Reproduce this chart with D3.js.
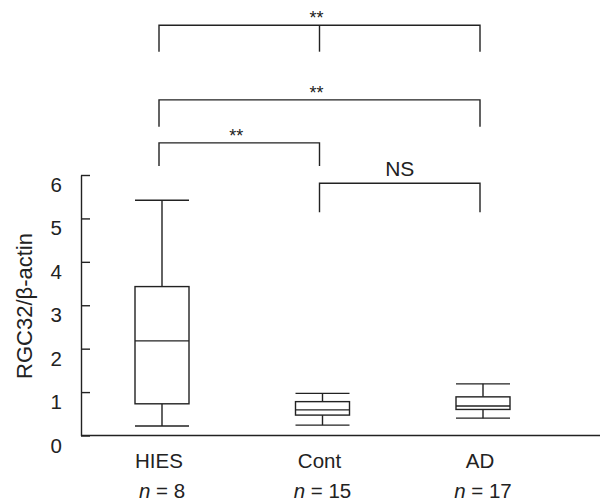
<!DOCTYPE html>
<html>
<head>
<meta charset="utf-8">
<script src="https://cdn.jsdelivr.net/npm/d3@7"></script>
<style>
  body { margin: 0; background: #fff; }
  text { font-family: "Liberation Sans", Arial, sans-serif; fill: #222; }
</style>
</head>
<body>
<div id="chart"></div>
<script>
var groups = ["HIES", "Cont", "AD"]
var counts = [8, 15, 17]
var whiskerLow = [0.22, 0.24, 0.40]
var q1 = [0.73, 0.47, 0.60]
var median = [2.18, 0.59, 0.68]
var q3 = [3.43, 0.78, 0.89]
var whiskerHigh = [5.42, 0.97, 1.19]
var yTicks = [0, 1, 2, 3, 4, 5, 6]

// significance brackets (levels in y units, above the axis)
var bracketFrom = ["HIES", "HIES", "HIES", "Cont"]
var bracketTo = ["AD", "AD", "Cont", "AD"]
var bracketMid = ["Cont", null, null, null]
var bracketTop = [9.45, 7.73, 6.74, 5.81]
var bracketLeg = [8.84, 7.11, 6.21, 5.14]
var bracketText = ["**", "**", "**", "NS"]

var width = 615, height = 502
var ink = "#222"
var fs = "20.5px"

var svg = d3.select("#chart").append("svg")
  .attr("width", width)
  .attr("height", height)

var x = d3.scalePoint().domain(groups).range([162, 483])
var y = d3.scaleLinear().domain([0, 6]).range([435.5, 175])
var boxW = 54

// y axis, ticks pointing inward, labels sitting a bit low
var yAxis = svg.append("g")
  .attr("transform", "translate(81,0)")
  .call(d3.axisLeft(y).tickValues(yTicks).tickFormat(d3.format("d"))
    .tickSizeInner(-9).tickSizeOuter(0).tickPadding(19))
yAxis.select(".domain").attr("stroke", ink).attr("stroke-width", 1.4)
yAxis.selectAll(".tick line").attr("stroke", ink).attr("stroke-width", 1.4)
yAxis.selectAll(".tick text")
  .attr("y", 10)
  .style("font-size", fs)
  .style("font-family", "'Liberation Sans', Arial, sans-serif")
  .attr("fill", ink)

// bottom axis line
svg.append("line")
  .attr("x1", 81).attr("x2", 600)
  .attr("y1", y(0)).attr("y2", y(0))
  .attr("stroke", ink).attr("stroke-width", 1.4)

svg.append("text")
  .attr("transform", "translate(32,306) rotate(-90)")
  .attr("text-anchor", "middle")
  .style("font-size", "22px")
  .text("RGC32/β-actin")

// boxes
var box = svg.selectAll(".box")
  .data(groups)
  .enter().append("g")
  .attr("class", "box")
  .attr("stroke", ink)
  .attr("stroke-width", 1.4)

box.append("line")
  .attr("x1", (d) => x(d)).attr("x2", (d) => x(d))
  .attr("y1", (d, i) => y(whiskerHigh[i])).attr("y2", (d, i) => y(q3[i]))
box.append("line")
  .attr("x1", (d) => x(d)).attr("x2", (d) => x(d))
  .attr("y1", (d, i) => y(q1[i])).attr("y2", (d, i) => y(whiskerLow[i]))
box.append("line")
  .attr("x1", (d) => x(d) - boxW / 2).attr("x2", (d) => x(d) + boxW / 2)
  .attr("y1", (d, i) => y(whiskerHigh[i])).attr("y2", (d, i) => y(whiskerHigh[i]))
box.append("line")
  .attr("x1", (d) => x(d) - boxW / 2).attr("x2", (d) => x(d) + boxW / 2)
  .attr("y1", (d, i) => y(whiskerLow[i])).attr("y2", (d, i) => y(whiskerLow[i]))
box.append("rect")
  .attr("x", (d) => x(d) - boxW / 2)
  .attr("width", boxW)
  .attr("y", (d, i) => y(q3[i]))
  .attr("height", (d, i) => y(q1[i]) - y(q3[i]))
  .attr("fill", "#fff")
box.append("line")
  .attr("x1", (d) => x(d) - boxW / 2).attr("x2", (d) => x(d) + boxW / 2)
  .attr("y1", (d, i) => y(median[i])).attr("y2", (d, i) => y(median[i]))

// category labels
svg.selectAll(".cat")
  .data(groups)
  .enter().append("text")
  .attr("class", "cat")
  .attr("x", (d) => x(d) - 3)
  .attr("y", 468)
  .attr("text-anchor", "middle")
  .style("font-size", fs)
  .text((d) => d)

var nLab = svg.selectAll(".nlab")
  .data(groups)
  .enter().append("text")
  .attr("class", "nlab")
  .attr("x", (d) => x(d))
  .attr("y", 498)
  .attr("text-anchor", "middle")
  .style("font-size", fs)
nLab.append("tspan").style("font-style", "italic").text("n")
nLab.append("tspan").text((d, i) => " = " + counts[i])

// brackets
var bx = (g) => x(g) - 3
bracketText.forEach((lab, i) => {
  var x1 = bx(bracketFrom[i]), x2 = bx(bracketTo[i])
  var top = y(bracketTop[i]), leg = y(bracketLeg[i])
  var pts = [[x1, leg], [x1, top], [x2, top], [x2, leg]]
  svg.append("path")
    .attr("d", d3.line()(pts))
    .attr("fill", "none")
    .attr("stroke", ink)
    .attr("stroke-width", 1.4)
  if (bracketMid[i]) {
    svg.append("line")
      .attr("x1", bx(bracketMid[i])).attr("x2", bx(bracketMid[i]))
      .attr("y1", top).attr("y2", leg)
      .attr("stroke", ink).attr("stroke-width", 1.4)
  }
  var isStar = lab == "**"
  svg.append("text")
    .attr("x", (x1 + x2) / 2 - (isStar ? 3 : 0))
    .attr("y", isStar ? top - 1 : top - 7)
    .attr("text-anchor", "middle")
    .style("font-size", isStar ? "18px" : "21px")
    .text(lab)
})
</script>
</body>
</html>
